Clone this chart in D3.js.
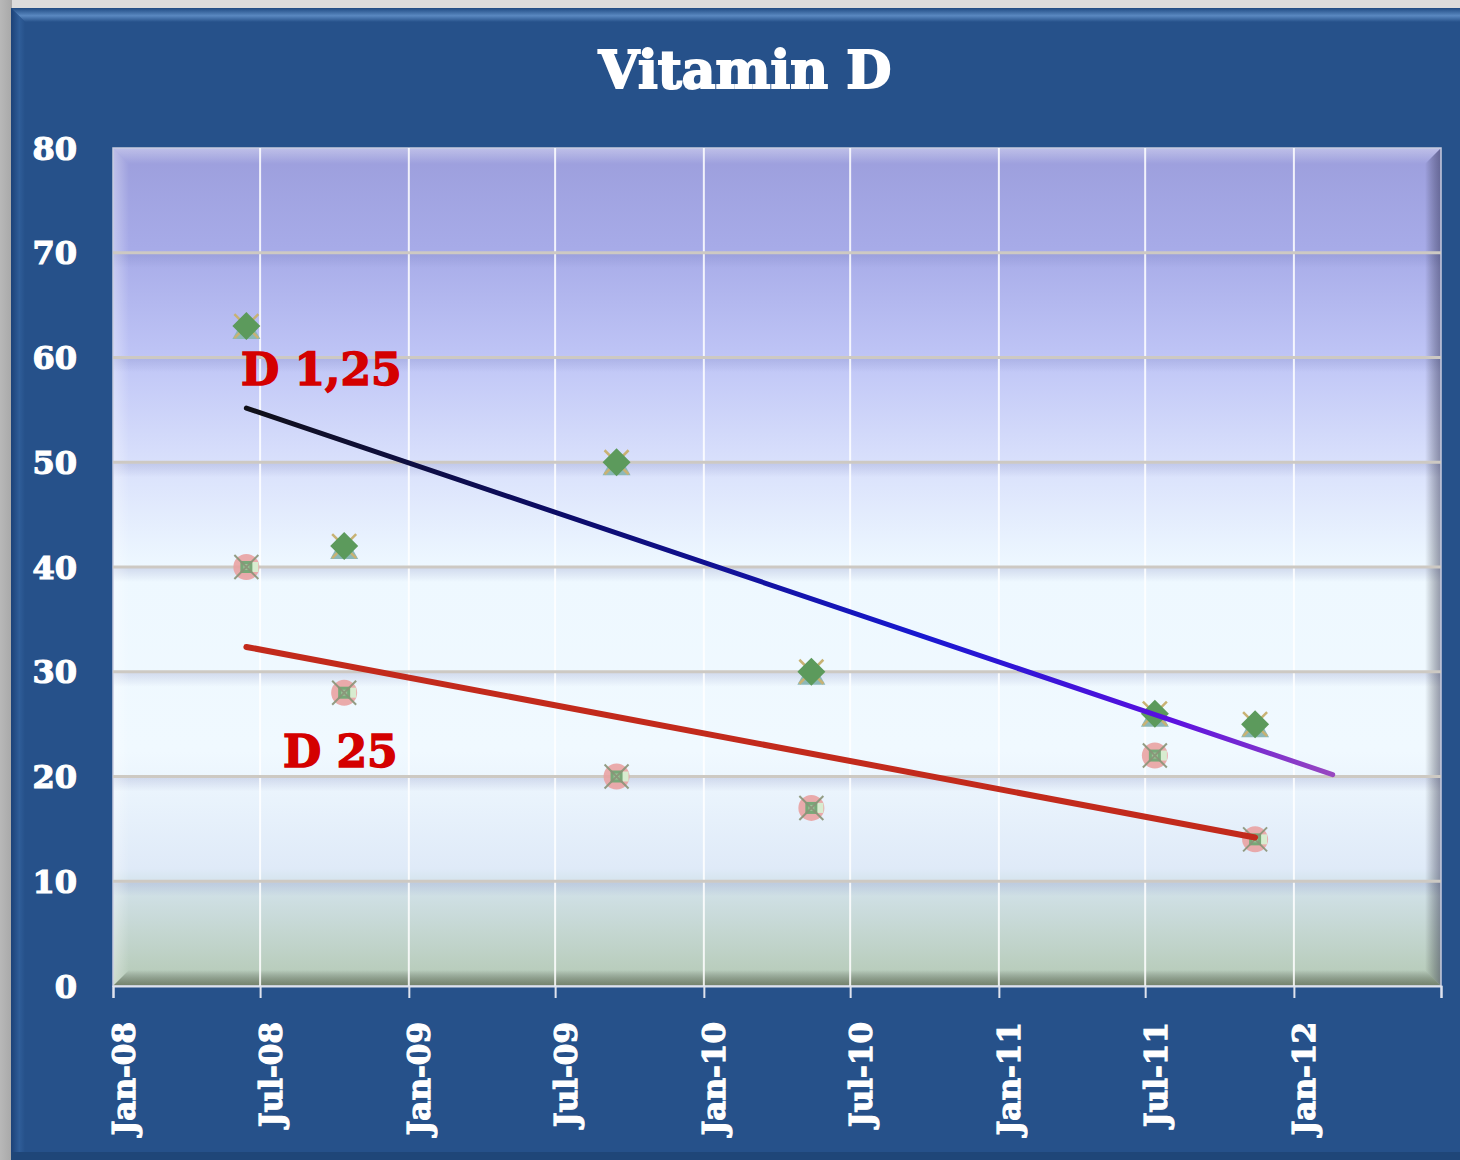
<!DOCTYPE html>
<html>
<head>
<meta charset="utf-8">
<script src="https://cdn.jsdelivr.net/npm/d3@7"></script>
<style>
  html, body { margin: 0; padding: 0; background: #d8d8d8; }
  svg { display: block; }
</style>
</head>
<body>
<svg id="chart" width="1460" height="1160"></svg>
<script>
// ---------------- DATA ----------------
const title = "Vitamin D";
const sampleDates = ["2008-06-14", "2008-10-13", "2009-09-15", "2010-05-14", "2011-07-13", "2011-11-14"];
const d125Values = [63, 42, 50, 30, 26, 25];
const d25Values  = [40, 28, 20, 17, 22, 14];
const seriesLabels = ["D 1,25", "D 25"];
const yTicks = [0, 10, 20, 30, 40, 50, 60, 70, 80];
const xDomain = ["2008-01-01", "2012-07-01"];
const d125ForecastDays = 96;   // trendline forecast forward
const d25ForecastDays = 0;

// ---------------- SETUP ----------------
const W = 1460, H = 1160;
const svg = d3.select("#chart");
const defs = svg.append("defs");
const parse = d3.utcParse("%Y-%m-%d");
const dates = sampleDates.map(parse);

const plot = { left: 113, right: 1441, top: 148, bottom: 986 };

const x = d3.scaleUtc().domain(xDomain.map(parse)).range([plot.left, plot.right]);
const y = d3.scaleLinear().domain([0, 80]).range([plot.bottom, plot.top]);

// ---------------- BACKGROUND ----------------
const gOuter = defs.append("linearGradient").attr("id", "outerLeft").attr("x1", 0).attr("x2", 1).attr("y1", 0).attr("y2", 0);
gOuter.append("stop").attr("offset", "0%").attr("stop-color", "#b8b8b8");
gOuter.append("stop").attr("offset", "100%").attr("stop-color", "#a8a8a8");
svg.append("rect").attr("x", 0).attr("y", 0).attr("width", W).attr("height", H).attr("fill", "#dcdcdc");
svg.append("rect").attr("x", 0).attr("y", 0).attr("width", 12).attr("height", H).attr("fill", "url(#outerLeft)");

// chart area
svg.append("rect").attr("x", 11).attr("y", 8).attr("width", W - 11).attr("height", H - 8).attr("fill", "#26518a");
const gTop = defs.append("linearGradient").attr("id", "chartTop").attr("x1", 0).attr("x2", 0).attr("y1", 0).attr("y2", 1);
gTop.append("stop").attr("offset", "0%").attr("stop-color", "#1f4a82");
gTop.append("stop").attr("offset", "55%").attr("stop-color", "#5a88c0");
gTop.append("stop").attr("offset", "100%").attr("stop-color", "#26518a");
svg.append("path").attr("d", `M11,8 L${W},8 L${W},22 L25,22 Z`).attr("fill", "url(#chartTop)");
const gLeft = defs.append("linearGradient").attr("id", "chartLeft").attr("x1", 0).attr("x2", 1).attr("y1", 0).attr("y2", 0);
gLeft.append("stop").attr("offset", "0%").attr("stop-color", "#1c4278");
gLeft.append("stop").attr("offset", "60%").attr("stop-color", "#2f5d98");
gLeft.append("stop").attr("offset", "100%").attr("stop-color", "#26518a");
svg.append("path").attr("d", `M11,8 L25,22 L25,${H - 8} L11,${H} Z`).attr("fill", "url(#chartLeft)");
svg.append("rect").attr("x", 11).attr("y", H - 8).attr("width", W - 11).attr("height", 8).attr("fill", "#1f4678");

// plot area gradient
const gPlot = defs.append("linearGradient").attr("id", "plotBg").attr("x1", 0).attr("x2", 0).attr("y1", 0).attr("y2", 1);
[
  [0, "#9c9edc"], [0.12, "#a7abe8"], [0.25, "#bfc5f6"], [0.36, "#d6ddfb"],
  [0.5, "#eef8ff"], [0.72, "#f0f9ff"], [0.86, "#dfeaf8"], [0.88, "#d2e2ea"],
  [1, "#b4c9b4"]
].forEach(([o, c]) => gPlot.append("stop").attr("offset", o).attr("stop-color", c));
svg.append("rect").attr("x", plot.left).attr("y", plot.top)
  .attr("width", plot.right - plot.left).attr("height", plot.bottom - plot.top)
  .attr("fill", "url(#plotBg)");

// gridline shadow bands
const gShadow = defs.append("linearGradient").attr("id", "gridShadow").attr("x1", 0).attr("x2", 0).attr("y1", 0).attr("y2", 1);
gShadow.append("stop").attr("offset", "0%").attr("stop-color", "#6a72b0").attr("stop-opacity", 0.22);
gShadow.append("stop").attr("offset", "100%").attr("stop-color", "#6a72b0").attr("stop-opacity", 0);
svg.append("g").selectAll("rect").data(yTicks.filter(t => t > 0 && t < 80)).join("rect")
  .attr("x", plot.left).attr("y", d => y(d) + 1)
  .attr("width", plot.right - plot.left).attr("height", 14)
  .attr("fill", "url(#gridShadow)");

// bevels of plot area
const bev = 16;
function lg(id, x1, y1, x2, y2, stops) {
  const g = defs.append("linearGradient").attr("id", id).attr("x1", x1).attr("y1", y1).attr("x2", x2).attr("y2", y2);
  stops.forEach(([o, c, a]) => g.append("stop").attr("offset", o).attr("stop-color", c).attr("stop-opacity", a));
}
lg("bevTop", 0, 0, 0, 1, [[0, "#ffffff", 0.35], [1, "#ffffff", 0]]);
lg("bevLeft", 0, 0, 1, 0, [[0, "#ffffff", 0.35], [1, "#ffffff", 0]]);
lg("bevRight", 0, 0, 1, 0, [[0, "#000000", 0], [1, "#202040", 0.45]]);
lg("bevBottom", 0, 0, 0, 1, [[0, "#000000", 0], [1, "#303820", 0.5]]);
const L = plot.left, R = plot.right, T = plot.top, B = plot.bottom;
svg.append("path").attr("d", `M${L},${T} L${R},${T} L${R - bev},${T + bev} L${L + bev},${T + bev} Z`).attr("fill", "url(#bevTop)");
svg.append("path").attr("d", `M${L},${T} L${L + bev},${T + bev} L${L + bev},${B - bev} L${L},${B} Z`).attr("fill", "url(#bevLeft)");
svg.append("path").attr("d", `M${R},${T} L${R},${B} L${R - bev},${B - bev} L${R - bev},${T + bev} Z`).attr("fill", "url(#bevRight)");
svg.append("path").attr("d", `M${L},${B} L${R},${B} L${R - bev},${B - bev} L${L + bev},${B - bev} Z`).attr("fill", "url(#bevBottom)");
svg.append("rect").attr("x", L).attr("y", T).attr("width", R - L).attr("height", B - T)
  .attr("fill", "none").attr("stroke", "#c8cce0").attr("stroke-width", 1.5);

// ---------------- GRIDLINES ----------------
const xTickDates = x.ticks(d3.utcMonth.every(6));
svg.append("g").selectAll("line").data(xTickDates.slice(1, -1)).join("line")
  .attr("x1", d => x(d)).attr("x2", d => x(d))
  .attr("y1", plot.top).attr("y2", plot.bottom)
  .attr("stroke", "#ffffff").attr("stroke-opacity", 0.85).attr("stroke-width", 2);
svg.append("g").selectAll("line").data(yTicks.filter(t => t > 0 && t < 80)).join("line")
  .attr("x1", plot.left).attr("x2", plot.right)
  .attr("y1", d => y(d)).attr("y2", d => y(d))
  .attr("stroke", "#cdc9c3").attr("stroke-width", 3);

// ---------------- AXES ----------------
const fontFam = "'DejaVu Serif', serif";
const yAxis = svg.append("g").attr("transform", `translate(${plot.left},0)`)
  .call(d3.axisLeft(y).tickValues(yTicks).tickSize(0).tickPadding(36));
yAxis.select(".domain").remove();
yAxis.selectAll("text").attr("fill", "#ffffff").attr("font-family", fontFam)
  .attr("font-weight", "bold").attr("font-size", 32).attr("dy", "0.35em")
  .attr("stroke", "#ffffff").attr("stroke-width", 1.2);

const xAxis = svg.append("g").attr("transform", `translate(0,${plot.bottom})`)
  .call(d3.axisBottom(x).tickValues(xTickDates).tickSize(12)
    .tickFormat((d, i) => i === xTickDates.length - 1 ? "" : d3.utcFormat("%b-%y")(d)));
xAxis.select(".domain").attr("stroke", "#dfe3ee").attr("stroke-width", 2);
xAxis.selectAll(".tick line").attr("stroke", "#dfe3ee").attr("stroke-width", 2);
xAxis.selectAll("text").attr("fill", "#ffffff").attr("font-family", fontFam)
  .attr("font-weight", "bold").attr("font-size", 31)
  .attr("stroke", "#ffffff").attr("stroke-width", 1.2)
  .attr("transform", "rotate(-90)").attr("text-anchor", "end")
  .attr("x", -36).attr("y", 0).attr("dy", "0.68em");

// ---------------- TITLE ----------------
svg.append("text").attr("x", 745).attr("y", 88).attr("text-anchor", "middle")
  .attr("fill", "#ffffff").attr("font-family", fontFam).attr("font-weight", "bold")
  .attr("stroke", "#ffffff").attr("stroke-width", 2)
  .attr("font-size", 52).text(title);

// ---------------- TRENDLINES ----------------
function regress(xs, ys) {
  const mx = d3.mean(xs), my = d3.mean(ys);
  let sxy = 0, sxx = 0;
  xs.forEach((v, i) => { sxy += (v - mx) * (ys[i] - my); sxx += (v - mx) * (v - mx); });
  const b = sxy / sxx;
  return t => my + b * (t - mx);
}
const tms = dates.map(d => +d);
const f125 = regress(tms, d125Values);
const f25 = regress(tms, d25Values);
const day = 86400000;
const t0 = tms[0], tEnd = tms[tms.length - 1];

const gTrend = defs.append("linearGradient").attr("id", "trend125").attr("gradientUnits", "userSpaceOnUse")
  .attr("x1", x(t0)).attr("x2", x(tEnd + d125ForecastDays * day)).attr("y1", 0).attr("y2", 0);
[[0, "#101018"], [0.3, "#0c0c6a"], [0.62, "#1818d0"], [0.85, "#5a10e0"], [1, "#9848c0"]]
  .forEach(([o, c]) => gTrend.append("stop").attr("offset", o).attr("stop-color", c));

const line = d3.line().x(d => x(d[0])).y(d => y(d[1]));
const tr125 = [t0, tEnd + d125ForecastDays * day].map(t => [t, f125(t)]);
const tr25 = [t0, tEnd + d25ForecastDays * day].map(t => [t, f25(t)]);

// ---------------- MARKERS ----------------
const mk = svg.append("g");
// D 25 markers (pink circles with square + X)
dates.forEach((d, i) => {
  const cx = x(d), cy = y(d25Values[i]);
  const g = mk.append("g").attr("transform", `translate(${cx},${cy})`);
  g.append("circle").attr("r", 13).attr("fill", "#e9a2a2").attr("opacity", 0.9);
  g.append("rect").attr("x", 5).attr("y", -5).attr("width", 7).attr("height", 10).attr("fill", "#d8ecd0");
  g.append("rect").attr("x", -6).attr("y", -6).attr("width", 12).attr("height", 12).attr("fill", "#78a878");
  g.append("rect").attr("x", -3).attr("y", -3).attr("width", 6).attr("height", 6).attr("fill", "#9cc49a");
  g.append("path").attr("d", "M-12,-12 L12,12 M12,-12 L-12,12").attr("stroke", "#8a9478").attr("stroke-width", 2).attr("opacity", 0.9);
});
// D 1,25 markers (teal triangle, tan X, green diamond)
dates.forEach((d, i) => {
  const cx = x(d), cy = y(d125Values[i]);
  const g = mk.append("g").attr("transform", `translate(${cx},${cy})`);
  g.append("path").attr("d", "M0,-12 L14,13 L-14,13 Z").attr("fill", "#8cb8b8");
  g.append("path").attr("d", "M-12,-12 L12,12 M12,-12 L-12,12").attr("stroke", "#c8b274").attr("stroke-width", 2.5);
  g.append("path").attr("d", "M0,-14 L14,0 L0,14 L-14,0 Z").attr("fill", "#5c9a5c");
});

svg.append("path").datum(tr125).attr("d", line).attr("fill", "none")
  .attr("stroke", "url(#trend125)").attr("stroke-width", 5).attr("stroke-linecap", "round");
svg.append("path").datum(tr25).attr("d", line).attr("fill", "none")
  .attr("stroke", "#c22a1c").attr("stroke-width", 6).attr("stroke-linecap", "round");

// ---------------- LABELS ----------------
svg.append("text").attr("x", 241).attr("y", 385).attr("fill", "#d40000")
  .attr("stroke", "#d40000").attr("stroke-width", 1.5)
  .attr("font-family", fontFam).attr("font-weight", "bold").attr("font-size", 44).text(seriesLabels[0]);
svg.append("text").attr("x", 283).attr("y", 767).attr("fill", "#d40000")
  .attr("stroke", "#d40000").attr("stroke-width", 1.5)
  .attr("font-family", fontFam).attr("font-weight", "bold").attr("font-size", 44).text(seriesLabels[1]);
</script>
</body>
</html>
